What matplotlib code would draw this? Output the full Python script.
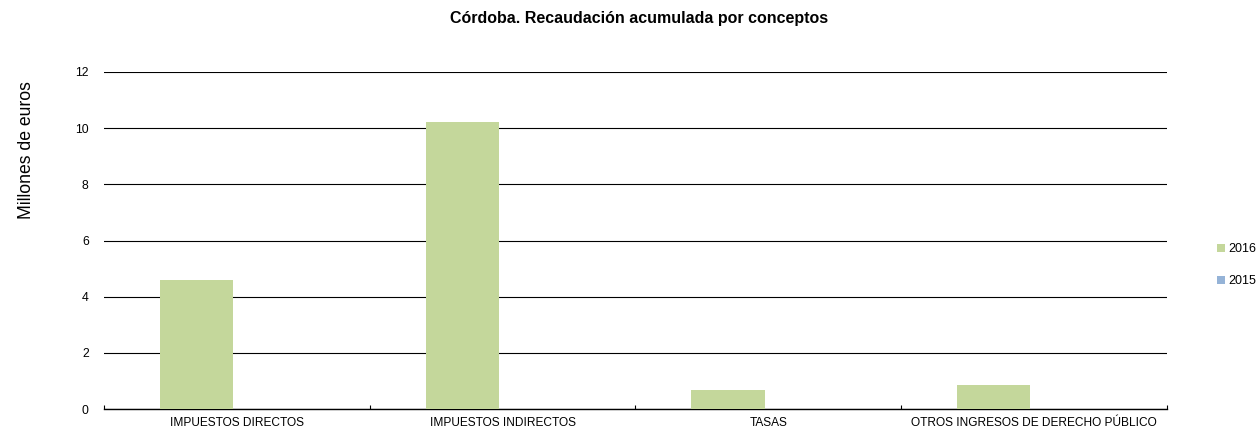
import matplotlib.pyplot as plt
import numpy as np

plt.rcParams['font.family'] = ['Liberation Sans', 'DejaVu Sans']

conceptos = ['IMPUESTOS DIRECTOS', 'IMPUESTOS INDIRECTOS', 'TASAS',
             'OTROS INGRESOS DE DERECHO PÚBLICO']
recaudacion_2016 = [4.59, 10.23, 0.68, 0.85]
recaudacion_2015 = [0, 0, 0, 0]
yticks = [0, 2, 4, 6, 8, 10, 12]

fig = plt.figure(figsize=(12.58, 4.34), dpi=100)
ax = fig.add_axes([104 / 1258, 1 - 409 / 434, (1167 - 104) / 1258, (409 - 72) / 434])

x = np.arange(len(conceptos))
w = 0.275
off = 0.152
ax.bar(x - off, recaudacion_2016, w, color='#c4d79b', label='2016', zorder=3)
ax.bar(x + off, recaudacion_2015, w, color='#95b3d7', label='2015', zorder=3)

ax.set_xlim(-0.5, len(conceptos) - 0.5)
ax.set_ylim(0, 12)
ax.set_yticks(yticks)
ax.set_xticks(x)
ax.set_xticklabels(conceptos, fontsize=8.6)
ax.set_xticks(np.arange(len(conceptos) + 1) - 0.5, minor=True)
ax.tick_params(axis='x', which='major', length=0, pad=6)
ax.tick_params(axis='x', which='minor', length=3, width=0.8, direction='in')
ax.tick_params(axis='y', length=0, labelsize=8.8, pad=11)
ax.grid(axis='y', color='black', linewidth=0.8, zorder=0)
for s in ['top', 'right', 'left']:
    ax.spines[s].set_visible(False)
ax.spines['bottom'].set_linewidth(1.0)

fig.text(639.5 / 1258, 1 - 18 / 434, 'Córdoba. Recaudación acumulada por conceptos',
         ha='center', va='center', fontsize=11.5, fontweight='bold')
fig.text(27 / 1258, 1 - 150 / 434, 'Millones de euros', rotation=90,
         ha='center', va='center', fontsize=12.7)

ax.legend(loc='center left', bbox_to_anchor=(1212 / 1258, 1 - 265 / 434),
          bbox_transform=fig.transFigure, frameon=False, borderaxespad=0,
          fontsize=9, handlelength=0.6, handleheight=0.6, handletextpad=0.3,
          labelspacing=1.6)

fig.savefig('out.png', dpi=100)
